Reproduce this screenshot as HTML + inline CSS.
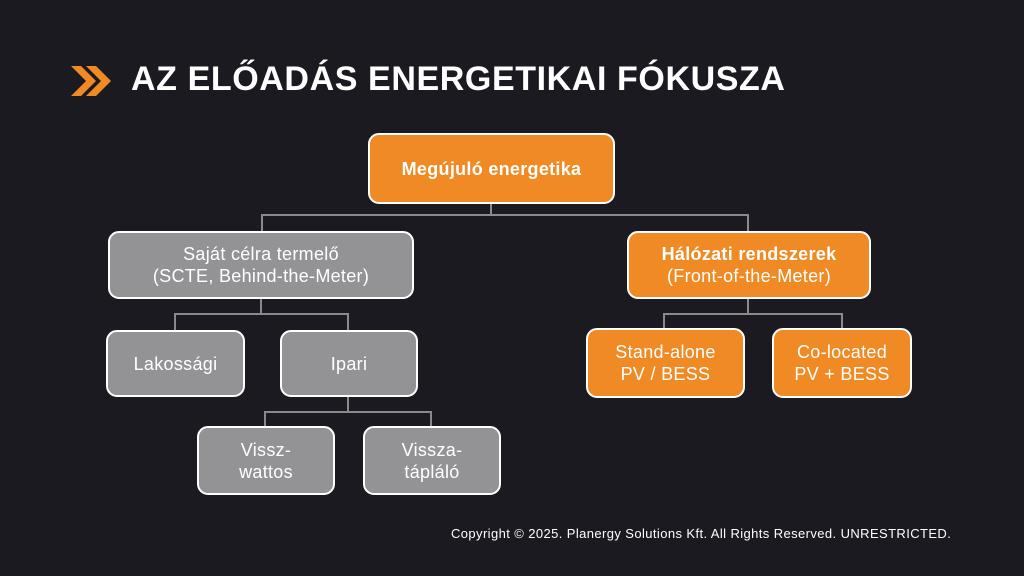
<!DOCTYPE html>
<html><head><meta charset="utf-8"><style>
body{margin:0;width:1024px;height:576px;background:#1b1a21;overflow:hidden;font-family:"Liberation Sans","DejaVu Sans",sans-serif;position:relative}
.t{position:absolute;left:131px;top:60px;color:#fff;font-weight:bold;font-size:34px;letter-spacing:0.6px;white-space:nowrap}
.b{position:absolute;box-sizing:border-box;border:2px solid #fff;border-radius:11px;display:flex;align-items:center;justify-content:center;text-align:center;color:#fff;font-size:18px;line-height:22px;letter-spacing:0.3px}
.o{background:#f08a24}.g{background:#939396}
.l{position:absolute;background:#8a8a8e}
.c{position:absolute;left:451px;top:526px;color:#fff;font-size:13px;letter-spacing:0.4px;white-space:nowrap}
</style></head><body>
<svg style="position:absolute;left:0;top:0" width="140" height="110">
<polygon points="71,66 81,66 96,81 81,96 71,96 86,81" fill="#f08a24"/>
<polygon points="86,66 96,66 111,81 96,96 86,96 101,81" fill="#f08a24"/>
</svg>
<div class="t">AZ ELŐADÁS ENERGETIKAI FÓKUSZA</div>

<div class="l" style="left:490px;top:203px;width:2px;height:12px"></div>
<div class="l" style="left:261px;top:214px;width:488px;height:2px"></div>
<div class="l" style="left:261px;top:214px;width:2px;height:18px"></div>
<div class="l" style="left:747px;top:214px;width:2px;height:18px"></div>

<div class="l" style="left:260px;top:298px;width:2px;height:16px"></div>
<div class="l" style="left:174px;top:313px;width:175px;height:2px"></div>
<div class="l" style="left:174px;top:313px;width:2px;height:17px"></div>
<div class="l" style="left:347px;top:313px;width:2px;height:17px"></div>

<div class="l" style="left:347px;top:396px;width:2px;height:16px"></div>
<div class="l" style="left:264px;top:411px;width:168px;height:2px"></div>
<div class="l" style="left:264px;top:411px;width:2px;height:15px"></div>
<div class="l" style="left:430px;top:411px;width:2px;height:15px"></div>

<div class="l" style="left:747px;top:298px;width:2px;height:16px"></div>
<div class="l" style="left:663px;top:313px;width:180px;height:2px"></div>
<div class="l" style="left:663px;top:313px;width:2px;height:15px"></div>
<div class="l" style="left:841px;top:313px;width:2px;height:15px"></div>

<div class="b o" style="left:368px;top:133px;width:247px;height:71px;font-weight:bold">Megújuló energetika</div>
<div class="b g" style="left:108px;top:231px;width:306px;height:68px">Saját célra termelő<br>(SCTE, Behind-the-Meter)</div>
<div class="b o" style="left:627px;top:231px;width:244px;height:68px"><span><b>Hálózati rendszerek</b><br>(Front-of-the-Meter)</span></div>
<div class="b g" style="left:106px;top:330px;width:139px;height:67px">Lakossági</div>
<div class="b g" style="left:280px;top:330px;width:138px;height:67px">Ipari</div>
<div class="b g" style="left:197px;top:426px;width:138px;height:69px">Vissz-<br>wattos</div>
<div class="b g" style="left:363px;top:426px;width:138px;height:69px">Vissza-<br>tápláló</div>
<div class="b o" style="left:586px;top:328px;width:159px;height:70px">Stand-alone<br>PV / BESS</div>
<div class="b o" style="left:772px;top:328px;width:140px;height:70px">Co-located<br>PV + BESS</div>

<div class="c">Copyright © 2025. Planergy Solutions Kft. All Rights Reserved. UNRESTRICTED.</div>
</body></html>
